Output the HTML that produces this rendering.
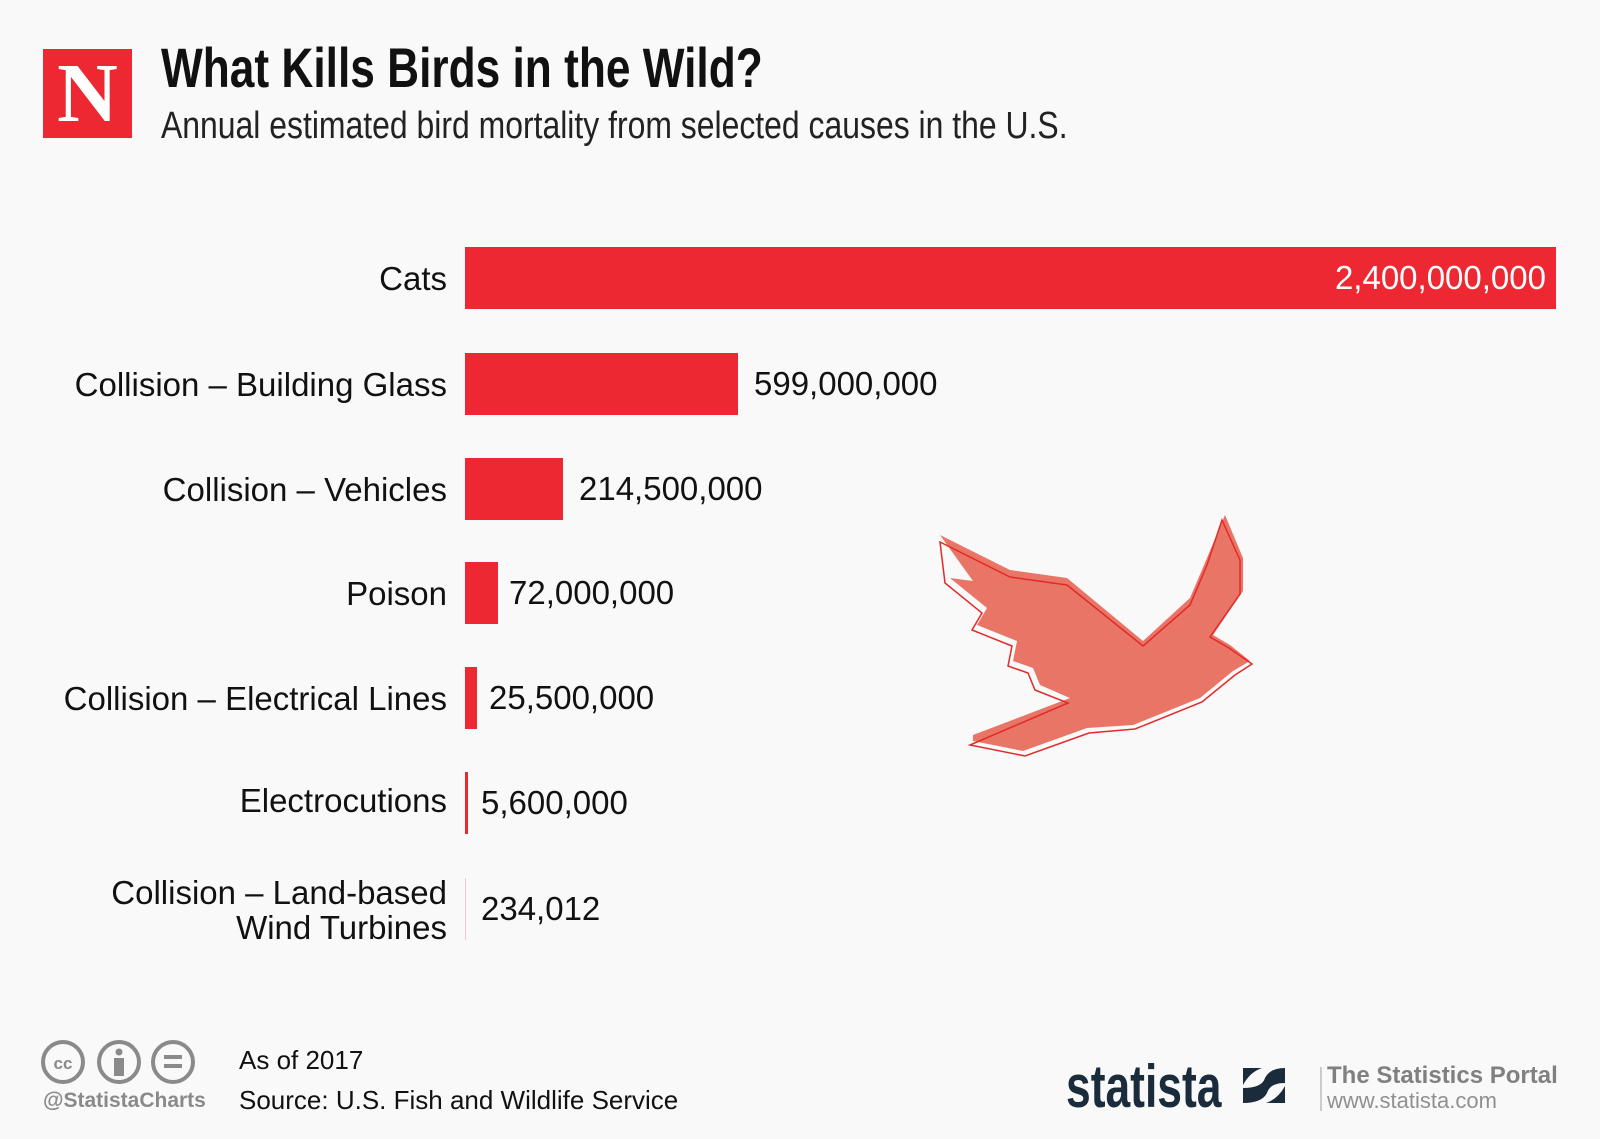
<!DOCTYPE html>
<html><head><meta charset="utf-8"><style>
body{margin:0;width:1600px;height:1139px;background:#f9f9f9;position:relative;overflow:hidden;font-family:"Liberation Sans",sans-serif;color:#111}
.a{position:absolute;white-space:nowrap}
.lbl{position:absolute;right:1153px;font-size:33px;text-align:right;line-height:35px}
.bar{position:absolute;left:465px;height:62px;background:#ee2833}
.val{position:absolute;font-size:33px;line-height:62px}
</style></head><body>
<div class="a" style="left:43px;top:49px;width:89px;height:89px;background:#ee2833"></div>
<div class="a" style="left:43px;top:49px;width:89px;height:89px;color:#fff;font-family:'Liberation Serif',serif;font-weight:bold;font-size:84px;line-height:89px;text-align:center">N</div>
<div class="a" style="left:161px;top:36px;font-weight:bold;font-size:56px;line-height:64px;transform:scaleX(0.79);transform-origin:0 0">What Kills Birds in the Wild?</div>
<div class="a" style="left:161px;top:104px;font-size:38px;line-height:44px;color:#222;transform:scaleX(0.84);transform-origin:0 0">Annual estimated bird mortality from selected causes in the U.S.</div>

<div class="bar" style="top:247px;width:1091px"></div>
<div class="val" style="top:247px;right:54px;color:#fff">2,400,000,000</div>
<div class="lbl" style="top:261px">Cats</div>

<div class="bar" style="top:353px;width:273px"></div>
<div class="val" style="top:353px;left:754px">599,000,000</div>
<div class="lbl" style="top:367px">Collision – Building Glass</div>

<div class="bar" style="top:458px;width:98px"></div>
<div class="val" style="top:458px;left:579px">214,500,000</div>
<div class="lbl" style="top:472px">Collision – Vehicles</div>

<div class="bar" style="top:562px;width:33px"></div>
<div class="val" style="top:562px;left:509px">72,000,000</div>
<div class="lbl" style="top:576px">Poison</div>

<div class="bar" style="top:667px;width:12px"></div>
<div class="val" style="top:667px;left:489px">25,500,000</div>
<div class="lbl" style="top:681px">Collision – Electrical Lines</div>

<div class="bar" style="top:772px;width:3px"></div>
<div class="val" style="top:772px;left:481px">5,600,000</div>
<div class="lbl" style="top:783px">Electrocutions</div>

<div class="bar" style="top:878px;width:1px;background:#f2c8ca"></div>
<div class="val" style="top:878px;left:481px">234,012</div>
<div class="lbl" style="top:875px">Collision – Land-based<br>Wind Turbines</div>

<svg class="a" style="left:0;top:0" width="1600" height="1139">
<g transform="translate(900,498) scale(1.0)">
<path d="M40,37 L110,72 L167,80 L243,143 L290,100 L307,60 L325,17 L343,60 L343,93 L313,137 L330,147 L350,163 L333,173 L300,200 L233,227 L187,230 L123,253 L73,243 L73,237 L170,200 L140,187 L133,170 L113,163 L117,143 L77,127 L87,110 L50,80 L73,83 Z" fill="#e87565"/>
<path d="M40,44 L110,79 L167,87 L243,148 L290,107 L307,67 L322,22 L340,62 L340,96 L310,139 L329,150 L352,166 L335,177 L302,204 L235,231 L189,235 L125,258 L70,247 L168,205 L135,192 L128,175 L108,168 L112,148 L72,132 L82,115 L45,85 Z" fill="none" stroke="#e32a2a" stroke-width="1.5"/>
</g>
<g fill="none" stroke="#8a8a8a" stroke-width="4">
<circle cx="63" cy="1062" r="20"/><circle cx="119" cy="1062" r="20"/><circle cx="173" cy="1062" r="20"/>
</g>
<text x="63" y="1069" font-size="17" font-weight="bold" fill="#8a8a8a" text-anchor="middle" font-family="Liberation Sans">cc</text>
<circle cx="119" cy="1052" r="3.5" fill="#8a8a8a"/><rect x="114" y="1058" width="10" height="18" fill="#8a8a8a"/>
<rect x="164" y="1055" width="18" height="4" fill="#8a8a8a"/><rect x="164" y="1064" width="18" height="4" fill="#8a8a8a"/>
<path d="M1243,1103 L1243,1088 Q1262,1088 1265,1078 Q1270,1068 1285,1068 L1285,1083 Q1270,1083 1267,1093 Q1262,1103 1243,1103 Z M1243,1068 L1262,1068 Q1250,1072 1243,1085 Z M1285,1103 L1266,1103 Q1278,1099 1285,1086 Z" fill="#1a2b3c"/>
<rect x="1320" y="1067" width="2" height="44" fill="#ccc"/>
</svg>
<div class="a" style="left:43px;top:1089px;font-size:21px;font-weight:bold;color:#8a8a8a">@StatistaCharts</div>
<div class="a" style="left:239px;top:1045px;font-size:26px;line-height:30px">As of 2017</div>
<div class="a" style="left:239px;top:1085px;font-size:26px;line-height:30px">Source: U.S. Fish and Wildlife Service</div>
<div class="a" style="left:1066px;top:1056px;font-weight:bold;font-size:60px;line-height:62px;color:#1a2b3c;transform:scaleX(0.74);transform-origin:0 0">statista</div>
<div class="a" style="left:1327px;top:1063px;font-size:24px;font-weight:bold;color:#808080;line-height:26px">The Statistics Portal</div>
<div class="a" style="left:1327px;top:1089px;font-size:22px;color:#909090;line-height:24px">www.statista.com</div>
</body></html>
